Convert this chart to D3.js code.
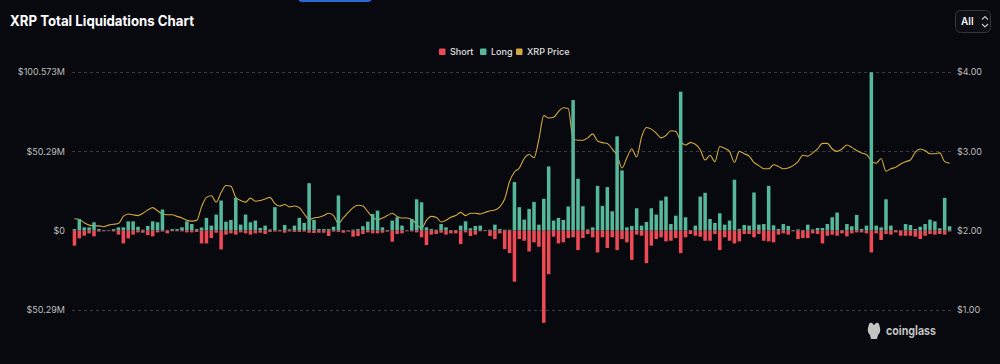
<!DOCTYPE html>
<html>
<head>
<meta charset="utf-8">
<script src="https://cdn.jsdelivr.net/npm/d3@7"></script>
<style>
  html, body { margin: 0; padding: 0; background: #08090e; }
  svg { display: block; }
  text { font-family: Inter, "Noto Sans", sans-serif; }
</style>
</head>
<body>
<svg id="chart" width="1000" height="364"></svg>
<script>
// ---------- DATA (millions USD / USD) ----------
const longValues = [
  1.0, 7.4, 2.1, 2.1, 5.3, 1.0, 0.4, 0.3, 1.0, 2.1,
  2.1, 5.9, 5.9, 2.5, 0.6, 3.0, 5.9, 5.3, 13.4, 0.4,
  1.0, 1.0, 2.1, 5.9, 4.2, 1.0, 2.0, 8.1, 3.2, 10.2,
  19.1, 5.7, 6.8, 20.8, 3.8, 10.2, 5.3, 6.4, 1.7, 3.2,
  0.8, 14.9, 0.5, 3.6, 0.8, 3.2, 8.1, 4.9, 30.1, 6.8,
  1.0, 1.0, 1.0, 2.5, 22.3, 0.4, 0.3, 0.6, 1.0, 2.8,
  5.7, 10.6, 12.7, 2.1, 0.4, 6.4, 8.5, 3.2, 0.3, 7.4,
  19.9, 18.0, 2.1, 1.0, 0.6, 4.2, 2.1, 0.4, 0.4, 3.2,
  5.9, 1.5, 3.0, 3.2, 0.4, 0.6, 3.8, 1.0, 0.6, 0.6,
  30.8, 14.9, 7.0, 13.8, 18.2, 3.8, 20.2, 40.7, 6.4, 8.1,
  6.8, 15.3, 82.8, 32.9, 15.5, 0.8, 2.1, 28.4, 15.7, 27.6,
  12.3, 59.8, 38.2, 2.1, 3.0, 14.2, 3.2, 5.5, 14.2, 10.2,
  19.1, 21.6, 4.2, 9.5, 88.1, 8.5, 0.4, 3.2, 21.6, 24.0,
  7.4, 4.9, 11.0, 3.8, 6.4, 32.3, 1.1, 3.6, 3.2, 24.2,
  3.8, 4.2, 28.4, 3.4, 1.1, 4.2, 3.0, 0.4, 0.8, 0.4,
  3.8, 0.8, 1.7, 1.7, 4.2, 8.5, 11.5, 0.4, 4.2, 2.8,
  10.0, 1.1, 3.2, 100.4, 3.2, 2.1, 19.9, 3.2, 0.4, 0.3,
  4.2, 3.6, 1.1, 2.5, 4.2, 7.0, 5.9, 1.5, 20.8, 2.8
];
const shortValues = [
  9.5, 4.9, 3.2, 1.7, 3.6, 0.6, 0.4, 0.3, 0.5, 2.5,
  8.1, 4.9, 2.5, 1.1, 1.3, 2.8, 3.6, 1.1, 0.6, 1.7,
  0.4, 0.4, 0.5, 1.1, 1.1, 0.8, 8.1, 8.1, 4.7, 1.3,
  11.9, 2.5, 1.7, 2.5, 1.1, 1.7, 2.5, 1.7, 1.3, 2.1,
  0.8, 0.6, 0.5, 1.3, 0.5, 0.8, 0.8, 0.6, 1.3, 1.5,
  1.3, 1.3, 3.4, 0.6, 0.8, 1.3, 0.6, 3.8, 3.4, 2.1,
  1.1, 1.7, 1.7, 1.3, 0.6, 7.0, 2.1, 1.7, 0.4, 0.5,
  1.1, 4.2, 9.1, 2.5, 2.1, 1.3, 2.5, 1.7, 1.7, 8.5,
  1.1, 3.4, 2.5, 0.4, 0.3, 3.4, 5.3, 1.7, 11.7, 14.2,
  32.3, 5.3, 6.4, 13.2, 7.4, 10.2, 58.4, 27.6, 3.8, 8.1,
  7.4, 4.7, 4.2, 12.3, 4.7, 2.1, 4.2, 13.8, 4.2, 11.0,
  4.2, 12.3, 5.3, 7.4, 18.5, 2.5, 3.2, 20.6, 9.5, 5.3,
  4.2, 6.8, 6.4, 4.7, 14.2, 4.2, 2.1, 3.2, 3.8, 6.4,
  6.4, 2.1, 12.3, 4.2, 6.4, 8.1, 6.8, 2.1, 2.1, 4.2,
  2.1, 6.4, 6.8, 7.4, 2.5, 1.7, 2.5, 0.4, 5.3, 4.7,
  4.7, 1.7, 2.1, 8.1, 3.2, 2.5, 3.2, 1.7, 3.6, 1.7,
  1.1, 1.1, 1.7, 13.8, 1.7, 5.9, 2.1, 2.5, 1.1, 3.2,
  3.2, 3.2, 3.8, 5.3, 3.2, 2.1, 2.5, 2.1, 2.5, 0.5
];
const priceValues = [
  2.15, 2.14, 2.10, 2.07, 2.06, 2.06, 2.05, 2.07, 2.08, 2.09,
  2.18, 2.21, 2.20, 2.19, 2.22, 2.26, 2.29, 2.25, 2.21, 2.20,
  2.20, 2.18, 2.16, 2.13, 2.12, 2.13, 2.30, 2.42, 2.44, 2.36,
  2.48, 2.57, 2.56, 2.42, 2.38, 2.36, 2.41, 2.37, 2.38, 2.40,
  2.42, 2.34, 2.31, 2.33, 2.30, 2.31, 2.29, 2.21, 2.14, 2.16,
  2.17, 2.19, 2.22, 2.19, 2.09, 2.16, 2.23, 2.29, 2.32, 2.31,
  2.24, 2.17, 2.14, 2.16, 2.19, 2.22, 2.18, 2.16, 2.16, 2.14,
  2.08, 2.03, 2.13, 2.18, 2.17, 2.11, 2.13, 2.17, 2.19, 2.23,
  2.19, 2.22, 2.22, 2.21, 2.23, 2.25, 2.26, 2.30, 2.40, 2.62,
  2.74, 2.79, 2.91, 2.96, 2.92, 3.15, 3.45, 3.42, 3.43, 3.50,
  3.55, 3.54, 3.16, 3.14, 3.14, 3.17, 3.22, 3.13, 3.11, 3.10,
  3.03, 2.95, 2.79, 2.92, 3.03, 2.93, 3.18, 3.30, 3.28, 3.23,
  3.17, 3.20, 3.26, 3.25, 3.13, 3.08, 3.11, 3.09, 3.02, 2.89,
  2.95, 2.87, 3.06, 3.04, 3.00, 2.86, 3.00, 2.97, 2.94, 2.86,
  2.82, 2.78, 2.78, 2.83, 2.81, 2.78, 2.79, 2.82, 2.87, 2.95,
  2.94, 2.98, 3.03, 3.10, 3.10, 3.03, 3.00, 3.03, 3.08, 3.05,
  3.01, 2.98, 2.96, 2.88, 2.85, 2.91, 2.75, 2.78, 2.80, 2.84,
  2.87, 2.89, 2.99, 3.03, 3.01, 2.97, 2.97, 2.98, 2.87, 2.85
];
const categories = longValues.map((_, i) => i);           // one bar per period
const leftTickValues = [-50.2865, 0, 50.2865, 100.573];
const leftTickLabels = ["$50.29M", "$0", "$50.29M", "$100.573M"];
const rightTickValues = [1, 2, 3, 4];
const rightTickLabels = ["$1.00", "$2.00", "$3.00", "$4.00"];
const seriesNames = ["Short", "Long", "XRP Price"];
const seriesColors = ["#ee4a55", "#55b89b", "#d3a93f"];
const titleText = "XRP Total Liquidations Chart";

// ---------- LAYOUT ----------
const svg = d3.select("#chart");
const L = 72, R = 952, T = 72, B = 310;

const x = d3.scaleBand().domain(categories).range([L, R]).paddingInner(0.28).paddingOuter(0.14);
const yL = d3.scaleLinear().domain([-50.2865, 100.573]).range([B, T]);
const yR = d3.scaleLinear().domain([1, 4]).range([B, T]);

// top blue tab
svg.append("rect").attr("x", 298).attr("y", -8).attr("width", 74).attr("height", 10)
  .attr("rx", 4).attr("fill", "#2d67d6");

// title
const title = svg.append("text").attr("x", 10).attr("y", 26)
  .attr("fill", "#ffffff").attr("font-size", 14).attr("font-weight", 700)
  .text(titleText);
const tw = title.node().getComputedTextLength();
if (Math.abs(tw - 184) > 2) title.attr("textLength", 184).attr("lengthAdjust", "spacingAndGlyphs");

// "All" selector
const sel = svg.append("g");
sel.append("rect").attr("x", 955.5).attr("y", 10.5).attr("width", 35).attr("height", 22)
  .attr("rx", 5).attr("fill", "#0d0e13").attr("stroke", "#34363c");
sel.append("text").attr("x", 961).attr("y", 25).attr("fill", "#f0f0f0")
  .attr("font-size", 10).attr("font-weight", 600).text("All");
sel.append("path").attr("d", "M982,19.5 L985,16.5 L988,19.5 M982,24 L985,27 L988,24")
  .attr("fill", "none").attr("stroke", "#c8c8c8").attr("stroke-width", 1.1);

// legend
const legendItems = [
  {name: seriesNames[0], color: seriesColors[0], x: 439},
  {name: seriesNames[1], color: seriesColors[1], x: 480},
  {name: seriesNames[2], color: seriesColors[2], x: 516}
];
const lg = svg.append("g");
legendItems.forEach(d => {
  lg.append("rect").attr("x", d.x).attr("y", 48.5).attr("width", 6.5).attr("height", 6.5)
    .attr("rx", 1).attr("fill", d.color);
  lg.append("text").attr("x", d.x + 11).attr("y", 55).attr("fill", "#e0e0e0")
    .attr("font-size", 9).attr("font-weight", 500).text(d.name);
});

// gridlines (not at zero)
const grid = svg.append("g");
leftTickValues.filter(v => v !== 0).forEach(v => {
  grid.append("line").attr("x1", L).attr("x2", R)
    .attr("y1", Math.round(yL(v)) + 0.5).attr("y2", Math.round(yL(v)) + 0.5)
    .attr("stroke", "#3a3c42").attr("stroke-width", 1).attr("stroke-dasharray", "3,3");
});

// axes
const axL = d3.axisLeft(yL).tickValues(leftTickValues).tickSize(0).tickPadding(7)
  .tickFormat((d, i) => leftTickLabels[i]);
const gL = svg.append("g").attr("transform", `translate(${L},0)`).call(axL);
const axR = d3.axisRight(yR).tickValues(rightTickValues).tickSize(0).tickPadding(5)
  .tickFormat((d, i) => rightTickLabels[i]);
const gR = svg.append("g").attr("transform", `translate(${R},0)`).call(axR);
[gL, gR].forEach(g => {
  g.select(".domain").remove();
  g.selectAll("text").attr("fill", "#bdbdbd").attr("font-size", 9)
    .attr("font-family", "Inter, 'Noto Sans', sans-serif");
});

// price line (beneath bars)
const line = d3.line()
  .x((d, i) => x(categories[i]) + x.bandwidth() / 2)
  .y(d => yR(d))
  .curve(d3.curveMonotoneX);
svg.append("path").datum(priceValues).attr("d", line)
  .attr("fill", "none").attr("stroke", seriesColors[2]).attr("stroke-width", 1.1)
  .attr("stroke-linejoin", "round");

// bars
const bars = svg.append("g");
bars.selectAll("rect.long").data(longValues).join("rect").attr("class", "long")
  .attr("x", (d, i) => x(categories[i])).attr("width", x.bandwidth())
  .attr("y", d => yL(d)).attr("height", d => yL(0) - yL(d))
  .attr("fill", seriesColors[1]);
bars.selectAll("rect.short").data(shortValues).join("rect").attr("class", "short")
  .attr("x", (d, i) => x(categories[i])).attr("width", x.bandwidth())
  .attr("y", yL(0)).attr("height", d => yL(-d) - yL(0))
  .attr("fill", seriesColors[0]);

// watermark
const wm = svg.append("g").attr("fill", "#c4c4c4");
wm.append("path").attr("d",
  "M869,324 Q870,322 872,323 L874,325 L876,323 Q878,322 879,324 L880,328 Q881,332 878,335 L877,339 L871,339 L870,335 Q867,332 868,328 Z");
const wmt = wm.append("text").attr("x", 886).attr("y", 335).attr("font-size", 12.5)
  .attr("font-weight", 700).text("coinglass");
const ww = wmt.node().getComputedTextLength();
if (Math.abs(ww - 50) > 2) wmt.attr("textLength", 50).attr("lengthAdjust", "spacingAndGlyphs");
</script>
</body>
</html>
